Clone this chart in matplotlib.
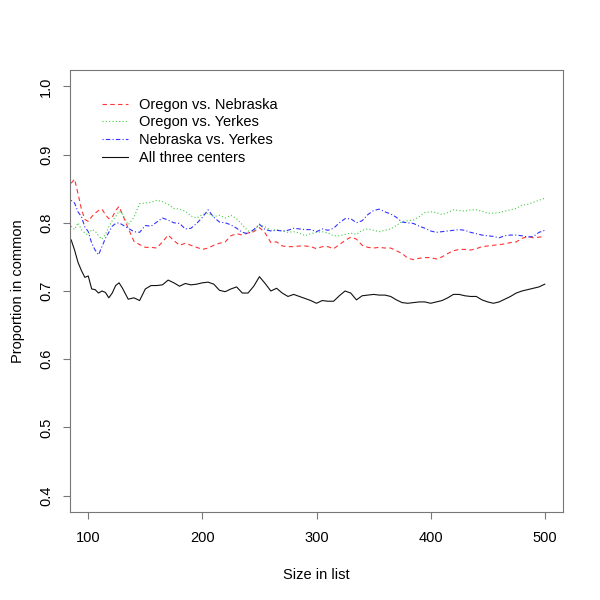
import matplotlib
matplotlib.use("Agg")
import matplotlib.pyplot as plt

plt.rcParams["font.family"] = ["Liberation Sans", "DejaVu Sans"]

# list sizes where the curves were read
size = [85, 88, 91, 94, 97, 100, 103, 106, 109, 112, 115, 118, 121, 124, 127, 130,
        135, 140, 145, 150, 155, 160, 165, 170, 175, 180, 185, 190, 195, 200,
        205, 210, 215, 220, 225, 230, 235, 240, 245, 250, 255, 260, 265, 270,
        275, 280, 285, 290, 295, 300, 305, 310, 315, 320, 325, 330, 335, 340,
        345, 350, 355, 360, 365, 370, 375, 380, 385, 390, 395, 400, 405, 410,
        415, 420, 425, 430, 435, 440, 445, 450, 455, 460, 465, 470, 475, 480,
        485, 490, 495, 500]

oregon_nebraska = [0.858, 0.864, 0.843, 0.820, 0.805, 0.802, 0.809, 0.814, 0.818, 0.820,
                   0.812, 0.806, 0.808, 0.818, 0.824, 0.812, 0.792, 0.773, 0.768, 0.764,
                   0.764, 0.763, 0.772, 0.782, 0.774, 0.767, 0.770, 0.767, 0.764, 0.761,
                   0.763, 0.767, 0.770, 0.772, 0.781, 0.784, 0.782, 0.785, 0.787, 0.793,
                   0.785, 0.771, 0.772, 0.766, 0.765, 0.765, 0.766, 0.766, 0.765, 0.762,
                   0.765, 0.765, 0.762, 0.768, 0.774, 0.779, 0.776, 0.767, 0.764, 0.763,
                   0.764, 0.763, 0.763, 0.759, 0.755, 0.748, 0.746, 0.748, 0.749, 0.749,
                   0.747, 0.750, 0.755, 0.759, 0.761, 0.761, 0.760, 0.762, 0.765, 0.766,
                   0.767, 0.768, 0.769, 0.771, 0.772, 0.777, 0.780, 0.778, 0.779, 0.780]

oregon_yerkes = [0.795, 0.790, 0.800, 0.790, 0.785, 0.782, 0.790, 0.788, 0.781, 0.776,
                 0.783, 0.794, 0.803, 0.809, 0.817, 0.813, 0.797, 0.808, 0.828, 0.829,
                 0.830, 0.833, 0.831, 0.827, 0.821, 0.820, 0.817, 0.810, 0.807, 0.812,
                 0.814, 0.809, 0.811, 0.807, 0.811, 0.806, 0.797, 0.788, 0.788, 0.797,
                 0.794, 0.789, 0.790, 0.788, 0.786, 0.787, 0.785, 0.781, 0.784, 0.786,
                 0.787, 0.785, 0.781, 0.781, 0.783, 0.785, 0.783, 0.789, 0.791, 0.789,
                 0.787, 0.789, 0.791, 0.796, 0.802, 0.803, 0.804, 0.809, 0.815, 0.816,
                 0.815, 0.812, 0.815, 0.819, 0.818, 0.817, 0.819, 0.819, 0.817, 0.814,
                 0.814, 0.815, 0.817, 0.819, 0.821, 0.826, 0.827, 0.830, 0.833, 0.836]

nebraska_yerkes = [0.833, 0.829, 0.816, 0.809, 0.794, 0.787, 0.770, 0.760, 0.753, 0.765,
                   0.777, 0.786, 0.795, 0.799, 0.800, 0.797, 0.792, 0.787, 0.786, 0.796,
                   0.795, 0.801, 0.807, 0.804, 0.800, 0.799, 0.791, 0.792, 0.799, 0.808,
                   0.819, 0.808, 0.801, 0.800, 0.797, 0.792, 0.786, 0.784, 0.790, 0.798,
                   0.790, 0.788, 0.789, 0.788, 0.789, 0.792, 0.791, 0.790, 0.790, 0.787,
                   0.791, 0.789, 0.792, 0.800, 0.806, 0.806, 0.800, 0.803, 0.812, 0.818,
                   0.820, 0.816, 0.813, 0.808, 0.801, 0.800, 0.799, 0.795, 0.792, 0.788,
                   0.786, 0.787, 0.788, 0.789, 0.790, 0.789, 0.786, 0.784, 0.782, 0.781,
                   0.780, 0.778, 0.781, 0.782, 0.782, 0.781, 0.779, 0.780, 0.786, 0.789]

all_three = [0.775, 0.760, 0.742, 0.730, 0.720, 0.722, 0.703, 0.702, 0.697, 0.700,
             0.698, 0.690, 0.697, 0.708, 0.712, 0.704, 0.688, 0.690, 0.686, 0.703,
             0.708, 0.708, 0.709, 0.716, 0.712, 0.707, 0.711, 0.709, 0.710, 0.712,
             0.713, 0.710, 0.701, 0.699, 0.703, 0.706, 0.697, 0.697, 0.707, 0.721,
             0.711, 0.700, 0.704, 0.697, 0.692, 0.695, 0.692, 0.689, 0.686, 0.682,
             0.686, 0.685, 0.685, 0.693, 0.700, 0.697, 0.687, 0.693, 0.694, 0.695,
             0.694, 0.694, 0.692, 0.687, 0.683, 0.682, 0.683, 0.684, 0.684, 0.682,
             0.684, 0.686, 0.690, 0.695, 0.695, 0.693, 0.692, 0.692, 0.687, 0.684,
             0.682, 0.684, 0.688, 0.692, 0.697, 0.700, 0.702, 0.704, 0.706, 0.710]

x_ticks = [100, 200, 300, 400, 500]
y_ticks = [0.4, 0.5, 0.6, 0.7, 0.8, 0.9, 1.0]

fig = plt.figure(figsize=(6, 6), dpi=100)
ax = fig.add_axes([70 / 600, 88 / 600, 493 / 600, 442 / 600])

ax.plot(size, oregon_nebraska, color="#ff3333", lw=0.8, ls=(0, (4, 3)), label="Oregon vs. Nebraska")
ax.plot(size, oregon_yerkes, color="#44cc44", lw=0.8, ls=(0, (1, 2)), label="Oregon vs. Yerkes")
ax.plot(size, nebraska_yerkes, color="#3333ff", lw=0.8, ls=(0, (1, 2, 4, 2)), label="Nebraska vs. Yerkes")
ax.plot(size, all_three, color="#111111", lw=0.8, label="All three centers")

ax.set_xlim(84, 516)
ax.set_ylim(0.376, 1.024)
ax.set_xticks(x_ticks)
ax.set_yticks(y_ticks)
ax.set_yticklabels([f"{v:.1f}" for v in y_ticks], rotation=90, va="center")

for s in ax.spines.values():
    s.set_color("#777777")
    s.set_linewidth(0.8)
ax.tick_params(direction="out", length=5, width=0.8, color="#777777", labelsize=10.5)
ax.tick_params(axis="x", pad=9)
ax.tick_params(axis="y", pad=7)

ax.set_xlabel("Size in list", fontsize=10.5, va="center")
ax.xaxis.set_label_coords(0.5, -63 / 442)
ax.set_ylabel("Proportion in common", fontsize=10.5, va="center")
ax.yaxis.set_label_coords(-52 / 493, 0.5)

ax.legend(loc="upper left", bbox_to_anchor=(26 / 493, 1 - 22 / 442), frameon=False,
          fontsize=10.5, handlelength=1.8, handletextpad=0.75, labelspacing=0.25,
          borderaxespad=0)

fig.savefig("out.png", dpi=100)
